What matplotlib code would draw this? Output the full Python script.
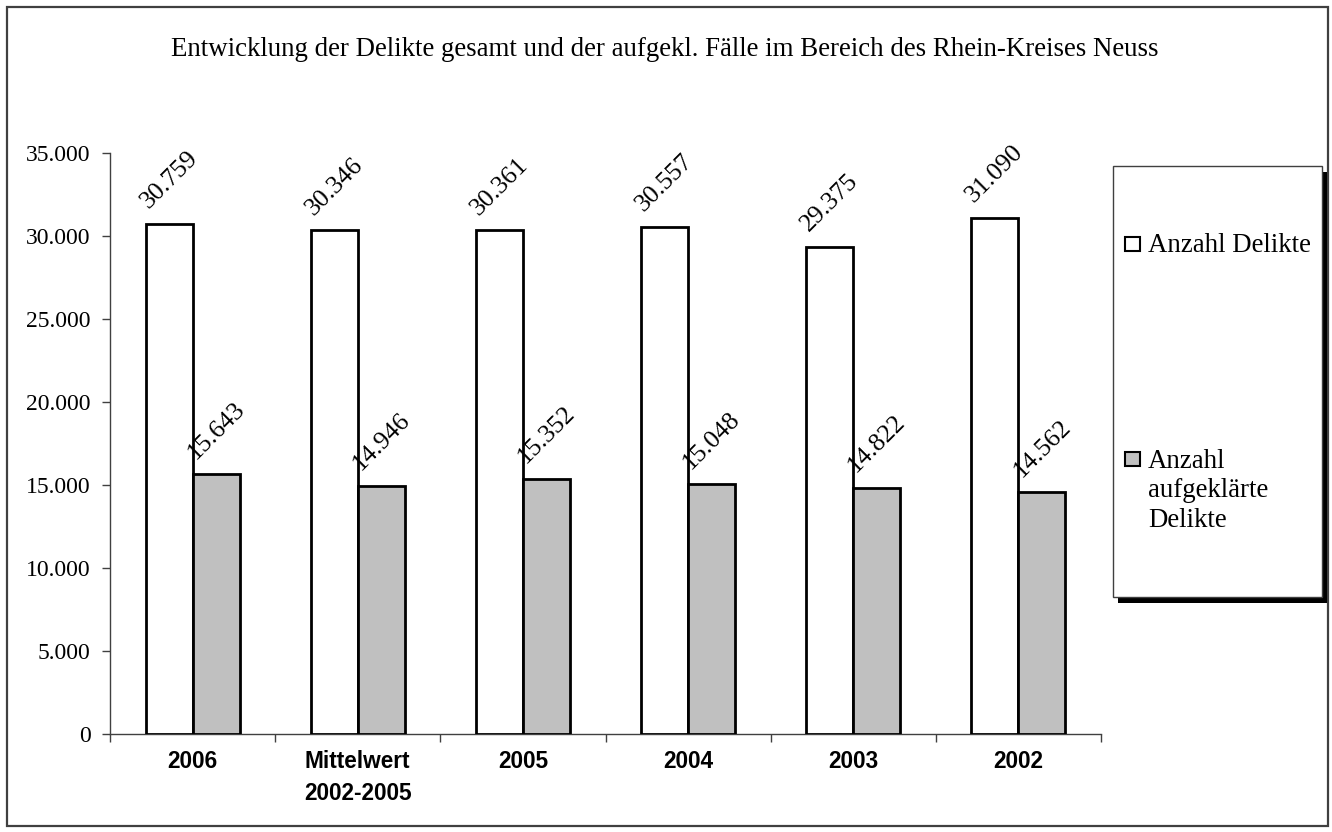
import matplotlib
matplotlib.use("Agg")
import matplotlib.pyplot as plt
from matplotlib.patches import Rectangle
import numpy as np

# Fallzahlen Rhein-Kreis Neuss
kategorien = ["2006", "Mittelwert\n2002-2005", "2005", "2004", "2003", "2002"]
delikte = [30759, 30346, 30361, 30557, 29375, 31090]
aufgeklaert = [15643, 14946, 15352, 15048, 14822, 14562]
serien_namen = ["Anzahl Delikte", "Anzahl\naufgeklärte\nDelikte"]
titel = "Entwicklung der Delikte gesamt und der aufgekl. Fälle im Bereich des Rhein-Kreises Neuss"

SERIF = "Liberation Serif"
SANS = "Liberation Sans"
GRAU = "#c0c0c0"
ACHSE = "#404040"

def de_format(v):
    return f"{int(v):,}".replace(",", ".")

fig = plt.figure(figsize=(13.32, 8.32), dpi=100)
W, H = 1332.0, 832.0

def fx(px):
    return px / W

def fy(py):
    return 1 - py / H

# Rahmen um das ganze Diagramm
fig.patches.append(Rectangle((fx(7), fy(826)), fx(1328) - fx(7), fy(7) - fy(826),
                             transform=fig.transFigure, fill=False,
                             edgecolor=ACHSE, linewidth=1.6))

fig.text(fx(665), fy(56), titel, ha="center", va="baseline",
         family=SERIF, fontsize=19.4)

ax = fig.add_axes([fx(110), fy(733.7), fx(1101) - fx(110), fy(153.3) - fy(733.7)])

x = np.arange(len(kategorien))
bw = 0.285
b1 = ax.bar(x - bw / 2, delikte, bw, color="white", edgecolor="black", linewidth=2, zorder=3)
b2 = ax.bar(x + bw / 2, aufgeklaert, bw, color=GRAU, edgecolor="black", linewidth=2, zorder=3)

for bars, vals in ((b1, delikte), (b2, aufgeklaert)):
    for r, v in zip(bars, vals):
        ax.annotate(de_format(v), (r.get_x() + r.get_width() / 2, v),
                    xytext=(0, 8), textcoords="offset points",
                    ha="center", va="bottom", rotation=45,
                    family=SERIF, fontsize=18.5)

ax.set_xlim(-0.5, len(kategorien) - 0.5)
ax.set_ylim(0, 35000)
ax.set_yticks(np.arange(0, 35001, 5000))
ax.set_yticklabels([de_format(v) for v in np.arange(0, 35001, 5000)],
                   family=SERIF, fontsize=17)
ax.set_xticks(x)
ax.set_xticklabels(kategorien, family=SANS, fontsize=16.3, fontweight="bold",
                   linespacing=1.5)
ax.set_xticks(np.arange(len(kategorien) + 1) - 0.5, minor=True)
ax.tick_params(axis="x", which="major", length=0, pad=12)
ax.tick_params(axis="x", which="minor", length=6, width=1, color=ACHSE, direction="out")
ax.tick_params(axis="y", length=6, width=1, color=ACHSE, direction="out", pad=8)

for s in ("top", "right"):
    ax.spines[s].set_visible(False)
for s in ("left", "bottom"):
    ax.spines[s].set_color(ACHSE)
    ax.spines[s].set_linewidth(1)

# Legende mit Schatten
lx0, ly0, lx1, ly1 = 1113, 166, 1322, 597
fig.patches.append(Rectangle((fx(lx0 + 5), fy(ly1 + 6)), fx(lx1) - fx(lx0), fy(ly0) - fy(ly1),
                             transform=fig.transFigure, facecolor="black",
                             edgecolor="black", linewidth=0, zorder=1))
fig.patches.append(Rectangle((fx(lx0), fy(ly1)), fx(lx1) - fx(lx0), fy(ly0) - fy(ly1),
                             transform=fig.transFigure, facecolor="white",
                             edgecolor=ACHSE, linewidth=1, zorder=2))

# (Balken, Oberkante Symbol, Grundlinie der letzten Textzeile)
eintraege = [(b1, 237, 252), (b2, 452, 527)]
for (bars, top, base), name in zip(eintraege, serien_namen):
    r = bars[0]
    fig.patches.append(Rectangle((fx(1125), fy(top + 14)), fx(1140) - fx(1125), fy(top) - fy(top + 14),
                                 transform=fig.transFigure, facecolor=r.get_facecolor(),
                                 edgecolor="black", linewidth=1.5, zorder=3))
    fig.text(fx(1148), fy(base), name, ha="left", va="baseline",
             family=SERIF, fontsize=19.4, linespacing=1.25, zorder=4)

plt.savefig("out.png", dpi=100)
